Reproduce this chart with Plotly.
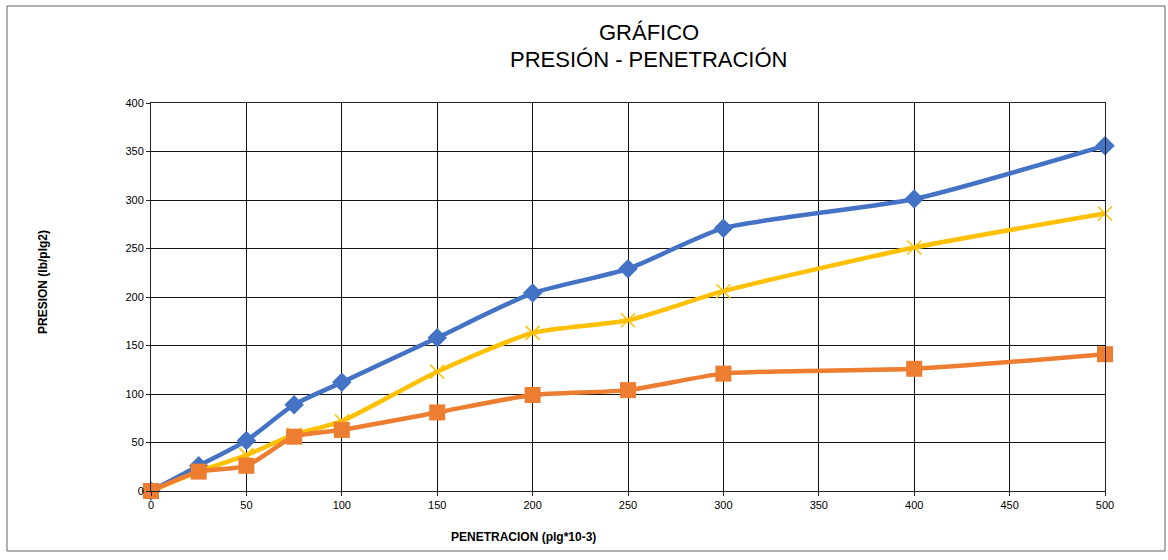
import plotly.graph_objects as go

# Penetration readings (plg*10^-3)
penetracion = [0, 25, 50, 75, 100, 150, 200, 250, 300, 400, 500]

# Pressure for each specimen (lb/plg2)
presion_a = [0, 26, 52, 89, 112, 158, 204, 229, 271, 301, 356]
presion_b = [0, 20, 26, 56, 63, 81, 99, 104, 121, 126, 141]
presion_c = [0, 20, 37, 58, 72, 123, 163, 176, 206, 251, 286]

x_ticks = [0, 50, 100, 150, 200, 250, 300, 350, 400, 450, 500]
y_ticks = [0, 50, 100, 150, 200, 250, 300, 350, 400]

FONT = "Liberation Sans, Arial, sans-serif"

W, H = 1168, 560
L, R, T, B = 151, 63, 103, 69
PW, PH = W - L - R, H - T - B


def px_x(px):
    """Horizontal pixel -> paper coordinate."""
    return (px - L) / PW


def px_y(py):
    """Vertical pixel (from top) -> paper coordinate."""
    return (H - B - py) / PH


fig = go.Figure()

fig.add_trace(go.Scatter(
    x=penetracion, y=presion_a, mode="lines+markers", cliponaxis=False,
    line=dict(color="#4472C4", width=4.5, shape="spline", smoothing=0.6),
    marker=dict(symbol="diamond", size=15, color="#4472C4"),
    showlegend=False,
))
fig.add_trace(go.Scatter(
    x=penetracion, y=presion_c, mode="lines+markers", cliponaxis=False,
    line=dict(color="#FFC000", width=4.5, shape="spline", smoothing=0.6),
    marker=dict(symbol="x-thin", size=14, color="#FFC000",
                line=dict(color="#FFC000", width=1.5)),
    showlegend=False,
))
fig.add_trace(go.Scatter(
    x=penetracion, y=presion_b, mode="lines+markers", cliponaxis=False,
    line=dict(color="#ED7D31", width=4.5, shape="spline", smoothing=0.6),
    marker=dict(symbol="square", size=16, color="#ED7D31"),
    showlegend=False,
))

annotations = [
    dict(text="GRÁFICO", x=px_x(649), y=px_y(33), xref="paper", yref="paper",
         xanchor="center", yanchor="middle", showarrow=False,
         font=dict(family=FONT, size=22, color="black")),
    dict(text="PRESIÓN - PENETRACIÓN", x=px_x(648), y=px_y(60), xref="paper", yref="paper",
         xanchor="center", yanchor="middle", showarrow=False,
         font=dict(family=FONT, size=22, color="black")),
    dict(text="<b>PENETRACION (plg*10-3)</b>", x=px_x(523), y=px_y(537),
         xref="paper", yref="paper", xanchor="center", yanchor="middle",
         showarrow=False, font=dict(family=FONT, size=12, color="black")),
    dict(text="<b>PRESION (lb/plg2)</b>", x=px_x(43), y=px_y(282),
         xref="paper", yref="paper", xanchor="center", yanchor="middle",
         textangle=-90, showarrow=False,
         font=dict(family=FONT, size=12, color="black")),
]

fig.update_layout(
    width=W, height=H,
    margin=dict(l=L, r=R, t=T, b=B),
    paper_bgcolor="white", plot_bgcolor="white",
    font=dict(family=FONT, color="black", size=11),
    annotations=annotations,
    shapes=[dict(
        type="rect", xref="paper", yref="paper",
        x0=px_x(7), x1=px_x(1165), y0=px_y(551), y1=px_y(6),
        line=dict(color="#606060", width=1),
    )],
)

fig.update_xaxes(
    range=[0, 500], tickvals=x_ticks, ticktext=[str(v) for v in x_ticks],
    showgrid=True, gridcolor="#111111", gridwidth=1,
    showline=True, linecolor="#222222", linewidth=1, mirror=True,
    ticks="outside", ticklen=4, tickcolor="#222222",
    zeroline=False,
)
fig.update_yaxes(
    range=[0, 400], tickvals=y_ticks, ticktext=[str(v) for v in y_ticks],
    showgrid=True, gridcolor="#111111", gridwidth=1,
    showline=True, linecolor="#222222", linewidth=1, mirror=True,
    ticks="outside", ticklen=4, tickcolor="#222222",
    zeroline=False,
)

fig.write_html("out.html")
